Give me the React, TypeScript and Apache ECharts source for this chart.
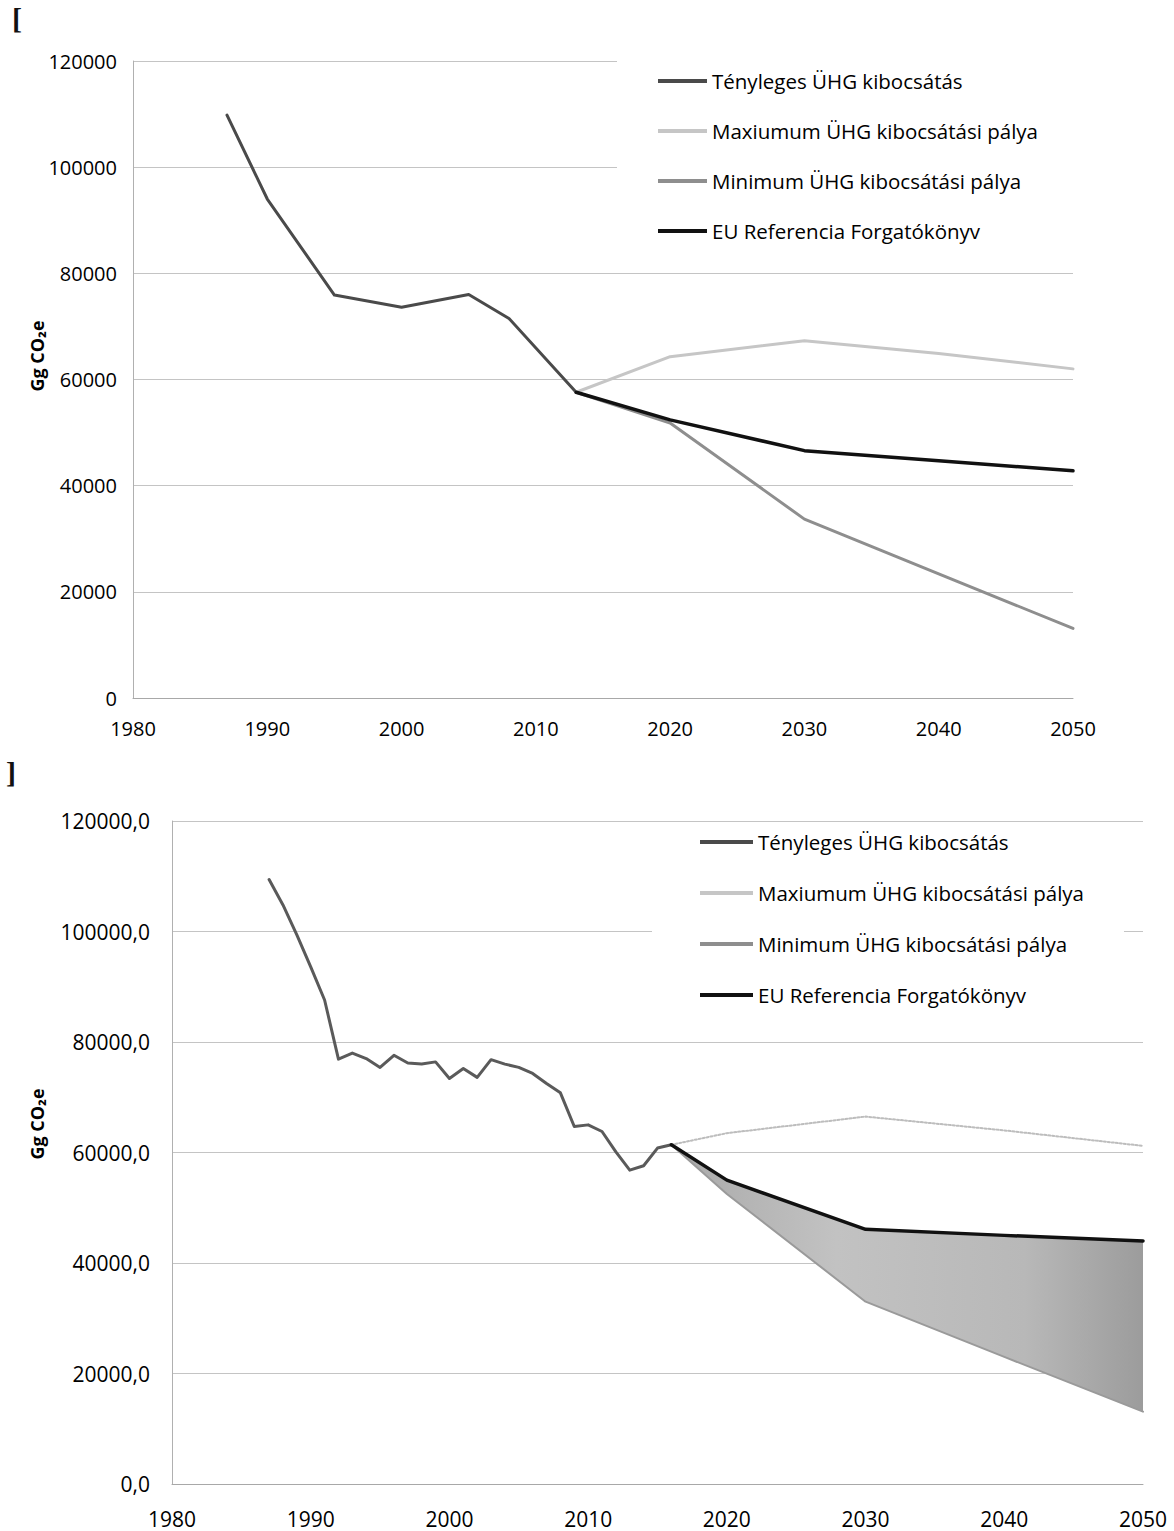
import React, { useEffect, useRef } from 'react';
import * as echarts from 'echarts';

const FONT = '"Open Sans", "Liberation Sans", sans-serif';

const seriesNames = [
  'Tényleges ÜHG kibocsátás',
  'Maxiumum ÜHG kibocsátási pálya',
  'Minimum ÜHG kibocsátási pálya',
  'EU Referencia Forgatókönyv',
];

// ---- Top chart data (Gg CO2e) ----
const topActualYears = [1987, 1990, 1995, 2000, 2005, 2008, 2013];
const topActualValues = [109800, 94000, 75900, 73600, 76000, 71500, 57600];
const topScenarioYears = [2013, 2020, 2030, 2040, 2050];
const topMaxValues = [57600, 64300, 67300, 64900, 62000];
const topMinValues = [57600, 51800, 33700, 23400, 13100];
const topEuValues = [57600, 52400, 46600, 44700, 42800];

// ---- Bottom chart data (Gg CO2e) ----
const bottomActualYears = [
  1987, 1988, 1989, 1990, 1991, 1992, 1993, 1994, 1995, 1996,
  1997, 1998, 1999, 2000, 2001, 2002, 2003, 2004, 2005, 2006,
  2007, 2008, 2009, 2010, 2011, 2012, 2013, 2014, 2015, 2016,
];
const bottomActualValues = [
  109400, 104800, 99400, 93600, 87600, 76900, 78000, 77000, 75400, 77600,
  76200, 76000, 76400, 73400, 75200, 73600, 76800, 76000, 75400, 74300,
  72500, 70800, 64700, 65000, 63800, 60100, 56800, 57600, 60800, 61400,
];
const bottomScenarioYears = [2016, 2020, 2030, 2040, 2050];
const bottomMaxValues = [61400, 63500, 66500, 64000, 61200];
const bottomMinValues = [61400, 52500, 33000, 23000, 13100];
const bottomEuValues = [61400, 55000, 46100, 45000, 44000];

const yearTicks = { min: 1980, max: 2050, interval: 10 };
const valueTicks = { min: 0, max: 120000, interval: 20000 };

const pairs = (xs: number[], ys: number[]) => xs.map((x, i) => [x, ys[i]]);

export default function App() {
  const ref = useRef<HTMLDivElement>(null);

  useEffect(() => {
    if (!ref.current) return;
    const chart = echarts.init(ref.current, undefined, { renderer: 'svg' });

    const axisText = { color: '#000', fontFamily: FONT, fontSize: 20 };
    const gridLine = { show: true, lineStyle: { color: '#c4c4c4', width: 1 } };

    const xAxisBase = (gridIndex: number, margin: number, fontSize: number) => ({
      type: 'value',
      gridIndex,
      ...yearTicks,
      axisLine: { show: true, lineStyle: { color: '#a8a8a8', width: 1 } },
      axisTick: { show: false },
      splitLine: { show: false },
      axisLabel: { ...axisText, fontSize, margin, formatter: (v: number) => String(v) },
    });

    const yAxisBase = (gridIndex: number, margin: number, fontSize: number, fmt: (v: number) => string) => ({
      type: 'value',
      gridIndex,
      ...valueTicks,
      axisLine: { show: true, lineStyle: { color: '#b0b0b0', width: 1 } },
      axisTick: { show: false },
      splitLine: gridLine,
      axisLabel: { ...axisText, fontSize, margin, formatter: fmt },
    });

    const line = (
      name: string,
      data: number[][],
      axis: number,
      color: string,
      width: number,
      z: number,
      type: string = 'solid'
    ) => ({
      type: 'line',
      name,
      xAxisIndex: axis,
      yAxisIndex: axis,
      data,
      symbol: 'none',
      z,
      lineStyle: { color, width, type, cap: 'round', join: 'round' },
      itemStyle: { color },
    });

    const bandFill = new echarts.graphic.LinearGradient(0, 0, 1, 0, [
      { offset: 0, color: '#a9a9a9' },
      { offset: 0.35, color: '#c2c2c2' },
      { offset: 0.75, color: '#b8b8b8' },
      { offset: 1, color: '#9c9c9c' },
    ]);

    const legendCommon = {
      orient: 'vertical',
      selectedMode: false,
      backgroundColor: '#ffffff',
      data: seriesNames,
      icon: 'rect',
      itemHeight: 4,
      textStyle: { color: '#000', fontFamily: FONT, fontSize: 20.5, lineHeight: 24 },
    };

    chart.setOption({
      animation: false,
      backgroundColor: '#ffffff',
      textStyle: { fontFamily: FONT },
      grid: [
        { left: 133, top: 61, width: 940, height: 637 },
        { left: 172, top: 821, width: 971, height: 663 },
      ],
      xAxis: [xAxisBase(0, 20, 20), xAxisBase(1, 24, 21)],
      yAxis: [
        yAxisBase(0, 16, 20, (v: number) => String(v)),
        yAxisBase(1, 22, 21, (v: number) => v.toFixed(1).replace('.', ',')),
      ],
      legend: [
        {
          ...legendCommon,
          left: 617,
          top: 60,
          padding: [9, 60, 8, 41],
          itemWidth: 49,
          itemGap: 26,
        },
        {
          ...legendCommon,
          left: 652,
          top: 824,
          padding: [6, 40, 8, 48],
          itemWidth: 53,
          itemGap: 27,
        },
      ],
      graphic: [
        {
          type: 'text',
          left: 12,
          top: 3,
          style: { text: '[', font: 'bold 30px "Liberation Serif", serif', fill: '#111' },
        },
        {
          type: 'text',
          left: 6,
          top: 757,
          style: { text: ']', font: 'bold 30px "Liberation Serif", serif', fill: '#111' },
        },
        {
          type: 'text',
          x: 37,
          y: 356,
          rotation: Math.PI / 2,
          style: {
            text: 'Gg CO₂e',
            font: `bold 18px ${FONT}`,
            fill: '#000',
            align: 'center',
            verticalAlign: 'middle',
          },
        },
        {
          type: 'text',
          x: 37,
          y: 1124,
          rotation: Math.PI / 2,
          style: {
            text: 'Gg CO₂e',
            font: `bold 18px ${FONT}`,
            fill: '#000',
            align: 'center',
            verticalAlign: 'middle',
          },
        },
      ],
      series: [
        // top chart
        line(seriesNames[0], pairs(topActualYears, topActualValues), 0, '#4a4a4a', 3, 3),
        line(seriesNames[1], pairs(topScenarioYears, topMaxValues), 0, '#c6c6c6', 3, 3),
        line(seriesNames[2], pairs(topScenarioYears, topMinValues), 0, '#8e8e8e', 3, 3),
        line(seriesNames[3], pairs(topScenarioYears, topEuValues), 0, '#111111', 3.5, 4),
        // bottom chart: shaded band between minimum and EU reference
        {
          type: 'custom',
          name: 'band',
          xAxisIndex: 1,
          yAxisIndex: 1,
          silent: true,
          z: 1,
          data: [[bottomScenarioYears[0], bottomEuValues[0]]],
          renderItem: (params: any, api: any) => {
            if (params.dataIndex !== 0) return null;
            const upper = bottomScenarioYears.map((yr, i) => api.coord([yr, bottomEuValues[i]]));
            const lower = bottomScenarioYears
              .map((yr, i) => api.coord([yr, bottomMinValues[i]]))
              .reverse();
            return {
              type: 'polygon',
              shape: { points: [...upper, ...lower] },
              style: { fill: bandFill, stroke: 'none' },
            };
          },
        },
        line(seriesNames[0], pairs(bottomActualYears, bottomActualValues), 1, '#5a5a5a', 3, 3),
        line(seriesNames[1], pairs(bottomScenarioYears, bottomMaxValues), 1, '#bdbdbd', 2, 3, 'dotted'),
        line(seriesNames[2], pairs(bottomScenarioYears, bottomMinValues), 1, '#9a9a9a', 2, 3),
        line(seriesNames[3], pairs(bottomScenarioYears, bottomEuValues), 1, '#111111', 3.5, 4),
      ],
    });

    return () => chart.dispose();
  }, []);

  return (
    <div
      ref={ref}
      style={{ position: 'absolute', left: 0, top: 0, width: 1174, height: 1531, background: '#fff' }}
    />
  );
}
